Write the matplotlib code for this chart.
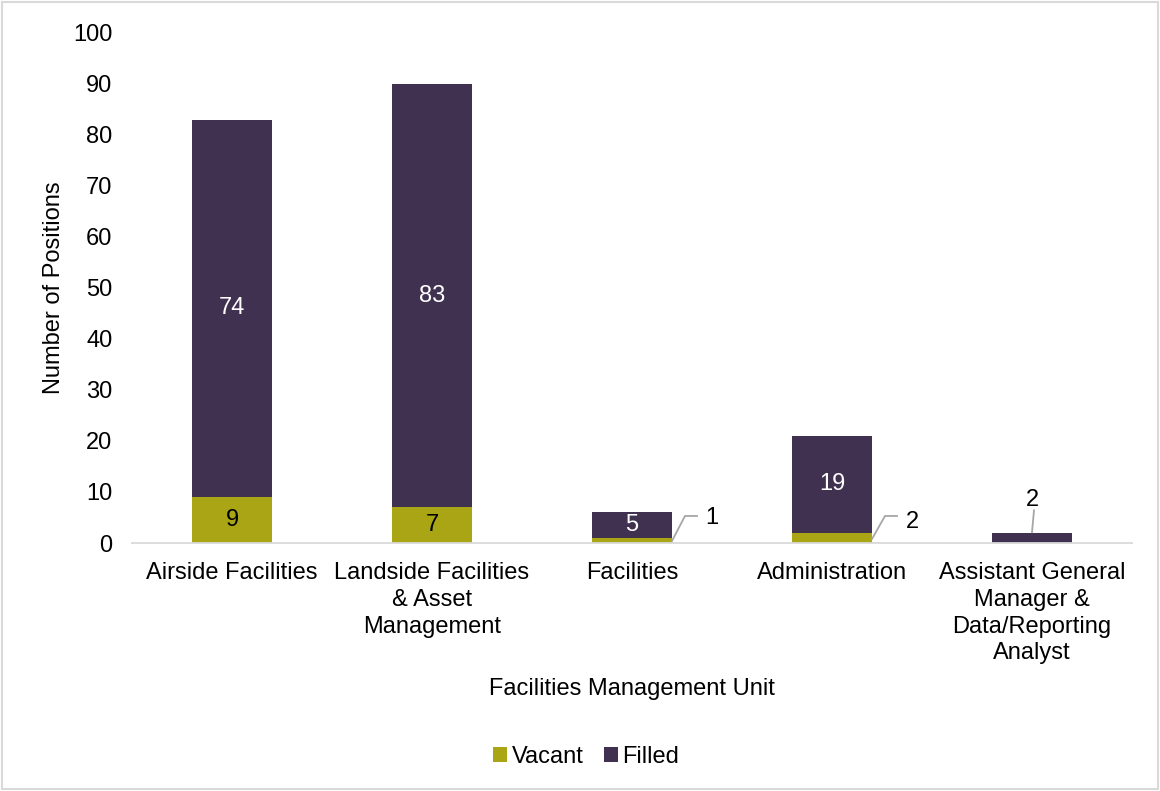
import numpy as np
import matplotlib.pyplot as plt
from matplotlib.patches import Rectangle

plt.rcParams['font.family'] = ['Liberation Sans', 'DejaVu Sans']

units = ['Airside Facilities', 'Landside Facilities\n& Asset\nManagement', 'Facilities',
         'Administration', 'Assistant General\nManager &\nData/Reporting\nAnalyst']
vacant = [9, 7, 1, 2, 0]
filled = [74, 83, 5, 19, 2]

c_vacant = '#A9A515'
c_filled = '#413151'
fs = 17

fig = plt.figure(figsize=(11.6, 7.91), dpi=100)
ax = fig.add_axes([132 / 1160, 248 / 791, 1000 / 1160, 510 / 791])

x = np.arange(len(units))
ax.bar(x, vacant, width=0.4, color=c_vacant, label='Vacant')
ax.bar(x, filled, width=0.4, bottom=vacant, color=c_filled, label='Filled')

# labels inside bars
for i in range(len(units)):
    if vacant[i] >= 5:
        ax.text(x[i], vacant[i] / 2, str(vacant[i]), ha='center', va='center', fontsize=fs, color='black')
    if filled[i] >= 5:
        ax.text(x[i], vacant[i] + filled[i] / 2, str(filled[i]), ha='center', va='center',
                fontsize=fs, color='white')

# leader lines for small vacant values
lc = '#A6A6A6'
label_y = {2: 4.9, 3: 4.2}
for i in [2, 3]:
    x0 = x[i] + 0.2
    ax.plot([x0, x0 + 0.065, x0 + 0.125], [vacant[i] * 0.4, 5.3, 5.3], color=lc, lw=1.3)
    ax.text(x0 + 0.2, label_y[i], str(vacant[i]), ha='center', va='center', fontsize=fs)

# AGM filled label above
ax.plot([x[4] + 0.01, x[4]], [6.4, 2.1], color=lc, lw=1.3)
ax.text(x[4], 8.4, str(filled[4]), ha='center', va='center', fontsize=fs)

ax.set_xlim(-0.5, 4.5)
ax.set_ylim(0, 100)
ax.set_yticks(np.arange(0, 101, 10))
ax.set_xticks(x)
ax.set_xticklabels(units, fontsize=fs, linespacing=1.27)
ax.tick_params(axis='y', labelsize=fs, length=0, pad=14)
ax.tick_params(axis='x', length=0, pad=14)
for s in ['top', 'right', 'left']:
    ax.spines[s].set_visible(False)
ax.spines['bottom'].set_color('#D9D9D9')
ax.spines['bottom'].set_linewidth(1.3)

ax.set_ylabel('Number of Positions', fontsize=fs, labelpad=6)
fig.text(632 / 1160, 1 - 689 / 791, 'Facilities Management Unit', ha='center', va='center', fontsize=fs)

fig.legend(loc='center', bbox_to_anchor=(586 / 1160, 1 - 757 / 791), ncol=2, frameon=False,
           fontsize=fs, handlelength=0.6, handleheight=0.6, handletextpad=0.2, columnspacing=0.85)

fig.patches.append(Rectangle((0.002, 0.002), 0.996, 0.996, transform=fig.transFigure,
                             fill=False, edgecolor='#D9D9D9', lw=1.5))

fig.savefig('out.png', dpi=100)
